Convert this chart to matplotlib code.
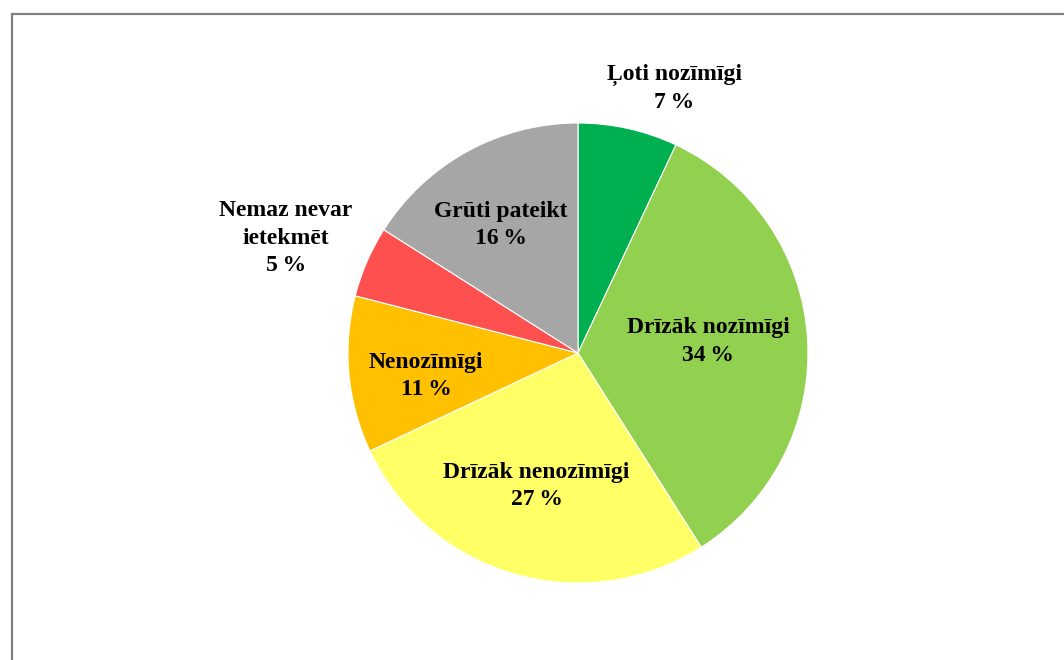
import matplotlib.pyplot as plt
from matplotlib.patches import Rectangle

categories = ["Ļoti nozīmīgi", "Drīzāk nozīmīgi", "Drīzāk nenozīmīgi",
              "Nenozīmīgi", "Nemaz nevar\nietekmēt", "Grūti pateikt"]
shares = [7, 34, 27, 11, 5, 16]
colors = ["#00B050", "#92D050", "#FFFF66", "#FFC000", "#FF5050", "#A6A6A6"]

# label offsets from pie centre, in pie radii (x right, y up)
label_pos = [(0.42, 1.15), (0.565, 0.05), (-0.18, -0.58),
             (-0.66, -0.10), (-1.27, 0.50), (-0.335, 0.555)]

W, H = 1064, 660
fig = plt.figure(figsize=(W / 100, H / 100), dpi=100)
ax = fig.add_axes([0, 0, 1, 1])

# chart area border (runs off right and bottom edges)
ax.add_patch(Rectangle((11.5, -20), W + 50, H - 13.5 + 20, fill=False,
                       edgecolor="#808080", linewidth=1.6))

cx, cy, r = 578, H - 353, 230
ax.pie(shares, colors=colors, startangle=90, counterclock=False,
       center=(cx, cy), radius=r, frame=True,
       wedgeprops=dict(edgecolor="white", linewidth=0.8))
ax.set_xlim(0, W)
ax.set_ylim(0, H)
ax.set_aspect("equal")
ax.axis("off")

for name, val, (dx, dy) in zip(categories, shares, label_pos):
    ax.text(cx + dx * r, cy + dy * r, f"{name}\n{val}\u2009%", ha="center", va="center",
            fontsize=17, fontweight="bold", family="Liberation Serif",
            linespacing=1.38)

fig.savefig("out.png", dpi=100)
